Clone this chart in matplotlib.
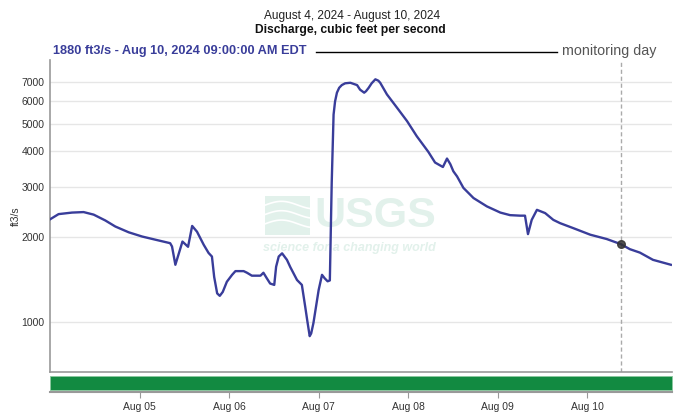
import numpy as np
import pandas as pd
import matplotlib
matplotlib.use("Agg")
from matplotlib import pyplot as plt
from matplotlib import dates as mdates
from matplotlib import font_manager
from matplotlib.patches import Rectangle

# Data: hours since Aug 4, 2024 00:00 EDT and discharge (ft3/s)
hours = [0.0, 2.3, 5.9, 9.0, 11.7, 14.8, 17.5, 21.1, 24.7, 28.2, 32.2, 32.7,
         33.6, 35.5, 37.0, 38.1, 39.4, 41.2, 42.5, 43.4, 44.0, 44.8, 45.5,
         46.3, 47.4, 48.8, 49.7, 51.9, 52.8, 54.1, 56.4, 57.2, 58.1, 59.0,
         60.1, 60.6, 61.3, 62.2, 63.5, 64.4, 66.2, 67.5, 68.4, 69.0, 69.6, 70.0,
         70.6, 72.0, 72.9, 73.6, 74.4, 75.0, 75.5, 76.0, 76.4, 76.9, 77.5,
         78.2, 79.1, 80.5, 82.3, 83.1, 84.2, 84.7, 85.4, 86.2, 87.2, 88.0,
         88.5, 90.3, 93.0, 95.7, 98.3, 101.4, 103.2, 105.3,
         106.4, 107.3, 108.1, 109.1, 110.8, 113.5, 117.1, 120.7, 123.3, 126.0,
         127.3, 128.1, 129.1, 130.5, 132.7, 134.9, 136.7, 140.3, 144.8, 149.2,
         153.0, 155.4, 158.1, 161.6, 166.4]
flow = [2300, 2400, 2430, 2440, 2390, 2280, 2170, 2070, 2000, 1950, 1895, 1845,
        1590, 1920, 1840, 2180, 2080, 1870, 1750, 1700, 1440, 1260, 1235,
        1275, 1385, 1465, 1510, 1510, 1490, 1455, 1455, 1490, 1425, 1365,
        1350, 1565, 1700, 1745, 1655, 1560, 1405, 1350, 1130, 1000, 890, 910,
        990, 1295, 1465, 1425, 1390, 1400, 3090, 5390, 6000, 6440, 6700,
        6850, 6950, 6980, 6850, 6600, 6440, 6520, 6700, 6950, 7180, 7100,
        6980, 6350, 5700, 5110, 4520, 3980, 3650, 3520,
        3770, 3600, 3400, 3260, 2970, 2735, 2555, 2430, 2380, 2370,
        2370, 2040, 2290, 2485, 2420, 2290, 2230, 2140, 2030, 1960,
        1880, 1805, 1755, 1655, 1590]

yticks = [1000, 2000, 3000, 4000, 5000, 6000, 7000]
day_ticks = ["2024-08-05", "2024-08-06", "2024-08-07", "2024-08-08",
             "2024-08-09", "2024-08-10"]
monitor_hour = 153.0
monitor_flow = 1880
bar_start, bar_end = 0.0, 166.7

start = pd.Timestamp("2024-08-04 00:00")
t = start + pd.to_timedelta(hours, unit="h")
t_mon = start + pd.Timedelta(hours=monitor_hour)


def pick(*names):
    have = {f.name for f in font_manager.fontManager.ttflist}
    for n in names:
        if n in have:
            return n
    return "DejaVu Sans"


narrow = pick("Liberation Sans Narrow", "Liberation Sans")
title_font = narrow

blue = "#393d9a"
fig = plt.figure(figsize=(6.81, 4.15), dpi=100)

# titles
fig.text(352 / 681, 1 - 16 / 415, "August 4, 2024 - August 10, 2024", ha="center", va="center",
         fontsize=8.6, family=title_font, color="#222222")
fig.text(350 / 681, 1 - 30 / 415, "Discharge, cubic feet per second", ha="center", va="center",
         fontsize=8.7, family=title_font, weight="bold", color="#111111")
fig.text(53 / 681, 1 - 51 / 415, "1880 ft3/s - Aug 10, 2024 09:00:00 AM EDT", ha="left",
         va="center", fontsize=9.2, family=title_font, weight="bold", color=blue)
fig.add_artist(plt.Line2D([316 / 681, 557 / 681], [1 - 52 / 415] * 2, color="black", lw=1))
fig.text(562 / 681, 1 - 51 / 415, "monitoring day", ha="left", va="center",
         fontsize=10.3, family=title_font, color="#555555")

ax = fig.add_axes([50 / 681, 1 - 372 / 415, 622 / 681, 312 / 415])

# USGS watermark
wm = "#e2f1eb"
ax.text(0.5225, 0.50, "USGS", transform=ax.transAxes, ha="center", va="center",
        fontsize=31, family=narrow, weight="bold", color=wm, zorder=0)
ax.text(0.482, 0.397, "science for a changing world", transform=ax.transAxes, ha="center",
        va="center", fontsize=9, family=narrow, weight="bold", style="italic",
        color=wm, zorder=0)
ax.add_patch(Rectangle((0.346, 0.44), 0.072, 0.125, transform=ax.transAxes,
                       color=wm, zorder=0, lw=0))
wx = np.linspace(0.346, 0.418, 40)
for off in (0.475, 0.505, 0.535):
    ax.plot(wx, off + 0.012 * np.sin((wx - 0.346) * 60), transform=ax.transAxes,
            color="white", lw=1.2, zorder=0)

ax.plot(t, flow, color=blue, lw=1.7, zorder=3, solid_joinstyle="round")
ax.axvline(t_mon, color="#aaaaaa", lw=1, ls=(0, (3, 2)), zorder=2)
ax.plot([t_mon], [monitor_flow], "o", color="#333333", ms=5.5, alpha=0.85, zorder=4)

ax.set_yscale("log")
ax.set_ylim(665, 8400)
ax.set_xlim(start, start + pd.Timedelta(hours=bar_end))
ax.set_yticks(yticks)
ax.set_yticklabels([str(v) for v in yticks])
ax.yaxis.set_minor_locator(matplotlib.ticker.NullLocator())
ax.tick_params(axis="y", length=0, labelsize=7.5, labelcolor="#333333", pad=4)
for lab in ax.get_yticklabels():
    lab.set_family(narrow)
ax.grid(axis="y", color="#e6e6e6", lw=1, zorder=1)
ax.set_axisbelow(True)
for s in ("top", "right"):
    ax.spines[s].set_visible(False)
for s in ("left", "bottom"):
    ax.spines[s].set_color("#999999")
    ax.spines[s].set_linewidth(1.2)
ax.set_ylabel("ft3/s", fontsize=7.5, family=narrow, color="#333333")
ax.yaxis.set_label_coords(-29 / 622, 0.5)

# status bar with date axis
bx = fig.add_axes([50 / 681, 1 - 392 / 415, 622 / 681, 17 / 415], sharex=ax)
bx.fill_between([start + pd.Timedelta(hours=bar_start), start + pd.Timedelta(hours=bar_end)],
                0.1, 0.95, color="#128a41", edgecolor="#8cc8a0", lw=0.6)
bx.set_ylim(0, 1)
bx.set_yticks([])
for s in ("top", "right", "left"):
    bx.spines[s].set_visible(False)
bx.spines["bottom"].set_color("#999999")
bx.spines["bottom"].set_linewidth(1.5)
bx.set_xticks(pd.to_datetime(day_ticks))
bx.xaxis.set_major_formatter(mdates.DateFormatter("%b %d"))
bx.tick_params(axis="x", length=4, color="#999999", labelsize=7.5, labelcolor="#333333", pad=3)
for lab in bx.get_xticklabels():
    lab.set_family(narrow)
ax.tick_params(axis="x", length=0, labelbottom=False)

fig.savefig("out.png", dpi=100)
